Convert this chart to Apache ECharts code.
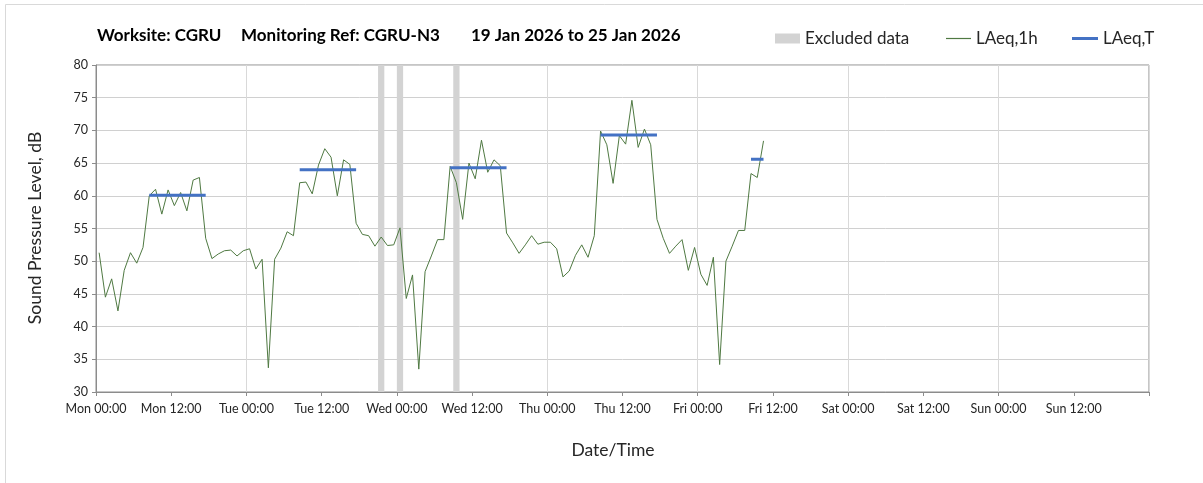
<!DOCTYPE html>
<html>
<head>
<meta charset="utf-8">
<title>CGRU-N3 noise monitoring</title>
<script src="https://cdn.jsdelivr.net/npm/echarts@6/dist/echarts.min.js"></script>
<style>
  html, body { margin: 0; padding: 0; background: #ffffff; }
  #chart { width: 1203px; height: 483px; }
</style>
</head>
<body>
<div id="chart"></div>
<script>
// Hourly LAeq,1h readings (dB), one per hour starting Mon 00:00
const hourlyLevels = [
  51.3, 44.5, 47.3, 42.4, 48.6, 51.3, 49.7, 52.1, 60.0, 61.0,
  57.2, 60.9, 58.5, 60.5, 57.7, 62.4, 62.8, 53.5, 50.4, 51.1,
  51.6, 51.7, 50.8, 51.6, 51.9, 48.8, 50.3, 33.7, 50.3, 52.0,
  54.5, 53.9, 62.0, 62.1, 60.3, 64.7, 67.2, 65.9, 60.0, 65.5,
  64.8, 55.8, 54.1, 53.9, 52.3, 53.7, 52.4, 52.5, 55.1, 44.3,
  47.9, 33.5, 48.4, 50.8, 53.3, 53.3, 64.5, 62.0, 56.4, 65.0,
  62.6, 68.5, 63.6, 65.5, 64.6, 54.3, 52.8, 51.2, 52.5, 53.9,
  52.6, 52.9, 52.9, 51.9, 47.6, 48.5, 50.9, 52.5, 50.6, 53.9,
  69.9, 67.8, 61.9, 69.2, 67.9, 74.6, 67.4, 70.2, 67.8, 56.4,
  53.5, 51.2, 52.3, 53.3, 48.6, 52.1, 48.0, 46.3, 50.6, 34.2,
  50.0, 52.3, 54.7, 54.7, 63.4, 62.8, 68.4
];

// LAeq,T over each daytime period: first hour, last hour, level (dB)
const laeqTStartHour = [8, 32, 56, 80, 104];
const laeqTEndHour   = [17, 41, 65, 89, 106];
const laeqTLevel     = [60.1, 64.0, 64.3, 69.3, 65.6];

// Excluded periods, hours from Mon 00:00
const excludedStart = [45, 48, 57];
const excludedEnd   = [46, 49, 58];

// Axis tick labels, every 12 hours
const tickLabels = [
  'Mon 00:00', 'Mon 12:00', 'Tue 00:00', 'Tue 12:00', 'Wed 00:00', 'Wed 12:00',
  'Thu 00:00', 'Thu 12:00', 'Fri 00:00', 'Fri 12:00', 'Sat 00:00', 'Sat 12:00',
  'Sun 00:00', 'Sun 12:00', ''
];

// Heading parts
const titleParts = ['Worksite: CGRU', 'Monitoring Ref: CGRU-N3', '19 Jan 2026 to 25 Jan 2026'];

const FONT = 'Lato, "Open Sans", sans-serif';
const TEXT = '#262626';
const GREEN = '#4f7942';
const BLUE = '#4472c4';
const GREY_BAND = '#d3d3d3';

// hourly values are plotted at the middle of their hour
const hourlyData = hourlyLevels.map((v, i) => [i + 0.5, v]);

const laeqTSeries = laeqTLevel.map((v, k) => ({
  name: 'LAeq,T',
  type: 'line',
  xAxisIndex: 0,
  yAxisIndex: 0,
  symbol: 'none',
  silent: true,
  color: BLUE,
  lineStyle: { color: BLUE, width: 3 },
  data: [[laeqTStartHour[k] + 0.5, v], [laeqTEndHour[k] + 0.5, v]],
  z: 4
}));

const chart = echarts.init(document.getElementById('chart'), null, { renderer: 'canvas' });

const legendBase = {
  top: 30,
  padding: 0,
  textStyle: { fontFamily: FONT, fontSize: 17, color: TEXT },
  selectedMode: false
};

const titleX = [97, 241, 471];

chart.setOption({
  animation: false,
  backgroundColor: '#ffffff',
  graphic: [
    {
      type: 'rect',
      shape: { x: 5.5, y: 4.5, width: 1300, height: 600 },
      style: { fill: 'none', stroke: '#d9d9d9', lineWidth: 1 },
      silent: true
    },
    {
      type: 'text',
      x: 35,
      y: 228,
      rotation: Math.PI / 2,
      style: {
        text: 'Sound Pressure Level, dB',
        font: '17.5px ' + FONT,
        fill: TEXT,
        align: 'center',
        verticalAlign: 'middle'
      }
    },
    {
      type: 'text',
      x: 613,
      y: 450,
      style: {
        text: 'Date/Time',
        font: '17.5px ' + FONT,
        fill: TEXT,
        align: 'center',
        verticalAlign: 'middle'
      }
    }
  ].concat(titleParts.map((t, k) => ({
    type: 'text',
    x: titleX[k],
    y: 36,
    style: {
      text: t,
      font: 'bold 17px ' + FONT,
      fill: '#000000',
      verticalAlign: 'middle'
    }
  }))),
  legend: [
    Object.assign({}, legendBase, {
      left: 775, itemWidth: 25, itemHeight: 10, itemGap: 0,
      data: [{ name: 'Excluded data', icon: 'rect', itemStyle: { color: GREY_BAND } }]
    }),
    Object.assign({}, legendBase, {
      left: 946, itemWidth: 25, itemHeight: 1.2,
      data: [{ name: 'LAeq,1h', icon: 'rect', itemStyle: { color: GREEN } }]
    }),
    Object.assign({}, legendBase, {
      left: 1072, itemWidth: 26, itemHeight: 3,
      data: [{ name: 'LAeq,T', icon: 'rect', itemStyle: { color: BLUE } }]
    })
  ],
  grid: {
    left: 96, right: 54, top: 65, bottom: 91,
    show: true,
    borderColor: '#8c8c8c',
    borderWidth: 1,
    backgroundColor: 'transparent'
  },
  xAxis: [
    {
      type: 'value',
      min: 0, max: 168, interval: 12,
      axisLine: { show: true, lineStyle: { color: '#8c8c8c', width: 1 } },
      axisTick: { show: true, length: 4, lineStyle: { color: '#8c8c8c' } },
      axisLabel: {
        fontFamily: FONT, fontSize: 12.5, color: TEXT, margin: 10,
        formatter: v => tickLabels[Math.round(v / 12)] || ''
      },
      splitLine: { show: false }
    },
    {
      // day boundaries drawn as vertical gridlines
      type: 'value',
      min: 0, max: 168, interval: 24,
      position: 'bottom',
      axisLine: { show: false },
      axisTick: { show: false },
      axisLabel: { show: false },
      splitLine: { show: true, lineStyle: { color: '#d9d9d9', width: 1 } }
    }
  ],
  yAxis: {
    type: 'value',
    min: 30, max: 80, interval: 5,
    axisLine: { show: true, lineStyle: { color: '#8c8c8c', width: 1 } },
    axisTick: { show: true, length: 4, lineStyle: { color: '#8c8c8c' } },
    axisLabel: { fontFamily: FONT, fontSize: 12.5, color: TEXT, margin: 8 },
    splitLine: { show: true, lineStyle: { color: '#d0d0d0', width: 1 } }
  },
  series: [
    {
      name: 'Excluded data',
      type: 'line',
      xAxisIndex: 0,
      data: [],
      color: GREY_BAND,
      silent: true,
      markArea: {
        silent: true,
        itemStyle: { color: GREY_BAND, opacity: 1 },
        data: excludedStart.map((s, k) => [{ xAxis: s }, { xAxis: excludedEnd[k] }])
      },
      z: 1
    },
    {
      name: 'LAeq,1h',
      type: 'line',
      xAxisIndex: 0,
      symbol: 'none',
      color: GREEN,
      lineStyle: { color: GREEN, width: 1 },
      data: hourlyData,
      z: 3
    }
  ].concat(laeqTSeries)
});
</script>
</body>
</html>
